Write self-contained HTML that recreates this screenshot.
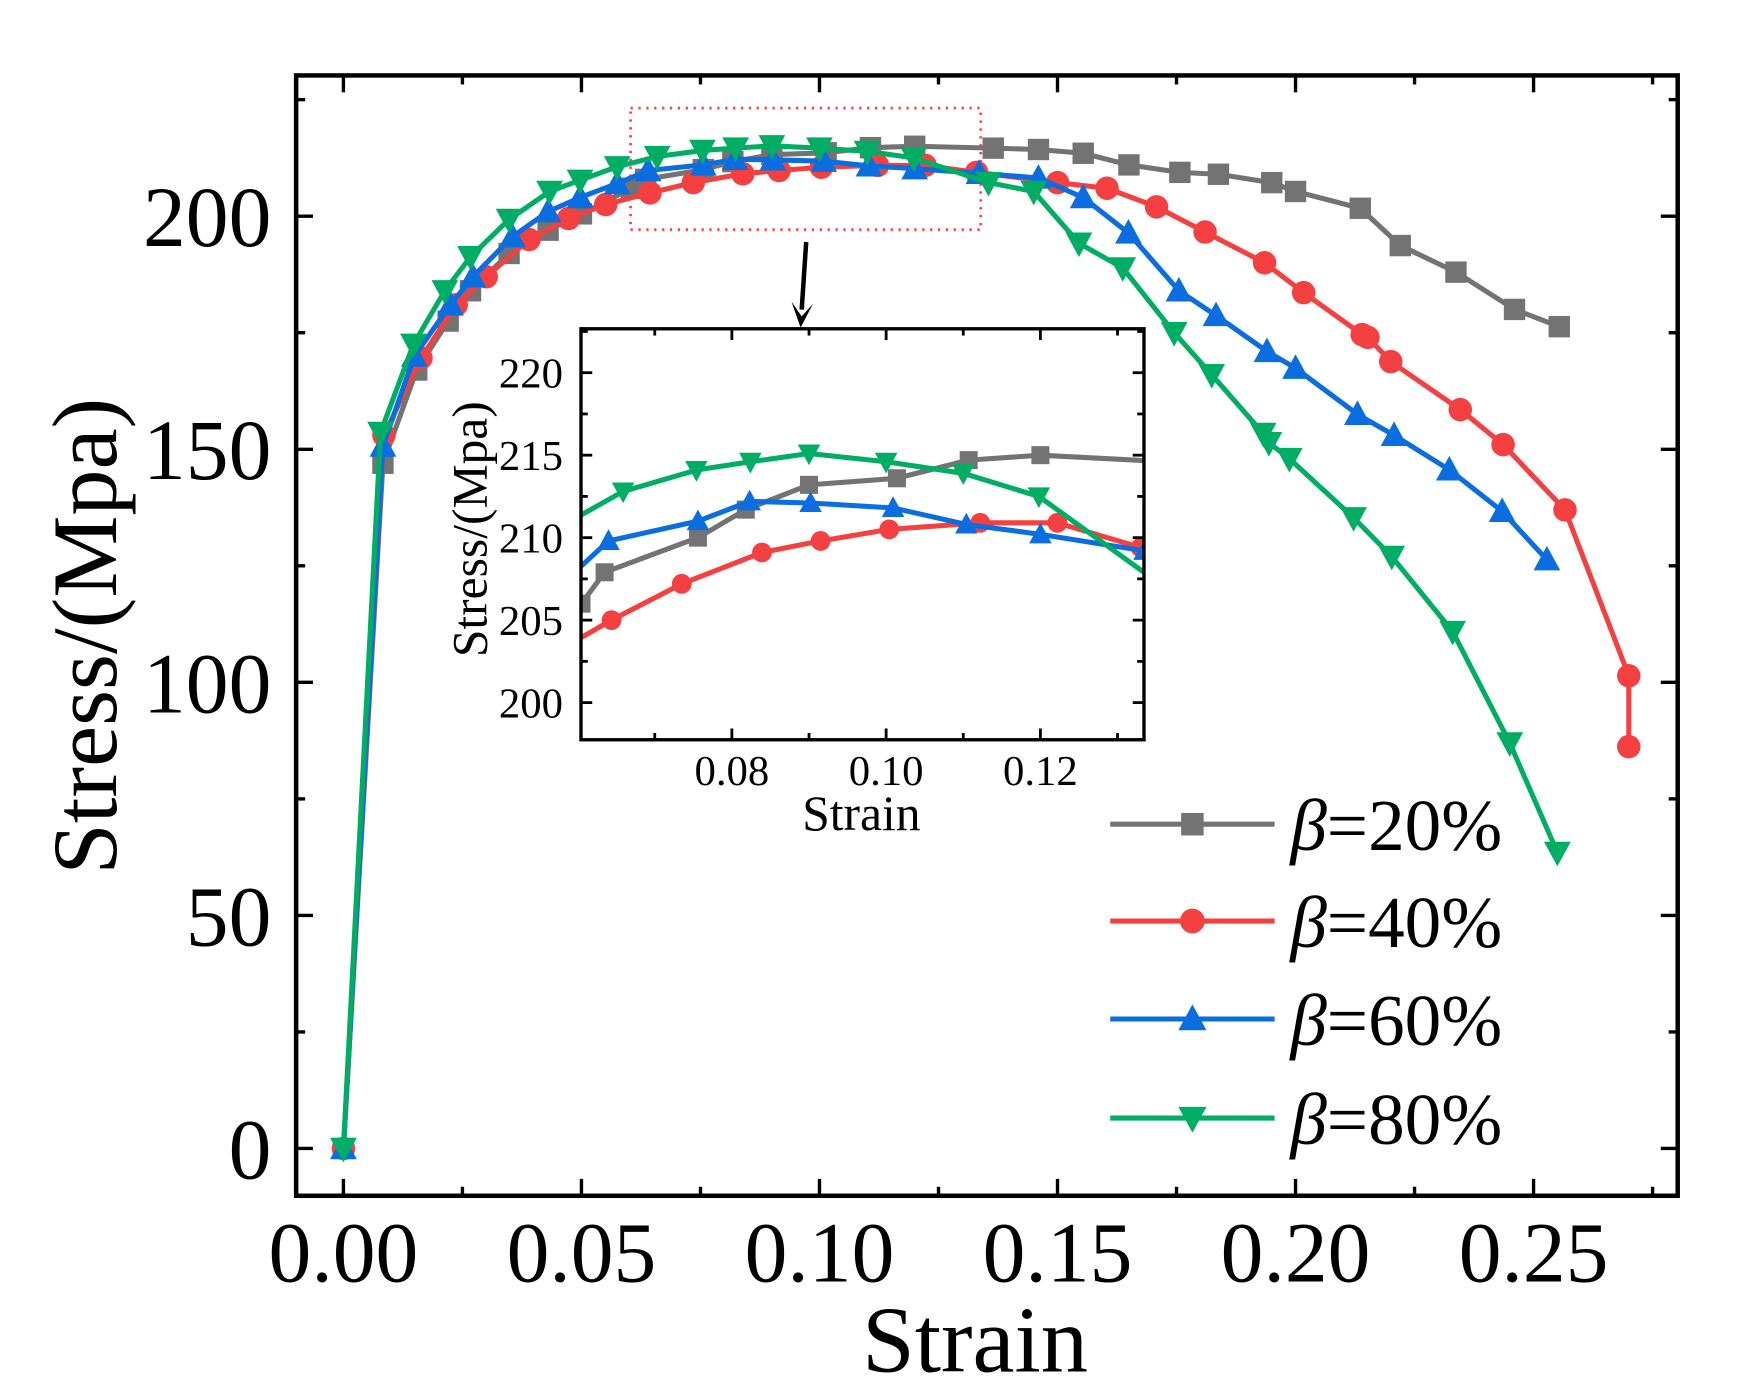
<!DOCTYPE html>
<html><head><meta charset="utf-8"><style>
html,body{margin:0;padding:0;background:#fff;overflow:hidden;}
svg{display:block;}
text{font-family:"Liberation Serif",serif;fill:#000;}
</style></head><body>
<svg id="chart" width="1743" height="1398" viewBox="0 0 1548 1241.6" preserveAspectRatio="none" xmlns="http://www.w3.org/2000/svg">
<defs>
<clipPath id="insetClip"><rect x="516" y="292" width="500" height="365"/></clipPath>
</defs>
<g id="main"></g>
<g id="inset"></g>
<g id="legend"></g>
</svg>
<script>
const seriesNames = ["β=20%","β=40%","β=60%","β=80%"];
const seriesColors = ["#737373","#f44040","#0a6ee0","#00ad64"];
const seriesMarkers = ["square","circle","up","down"];
const xTicksMain = [0,0.05,0.10,0.15,0.20,0.25];
const xTickLabelsMain = ["0.00","0.05","0.10","0.15","0.20","0.25"];
const yTicksMain = [0,50,100,150,200];
const xTicksInset = [0.08,0.10,0.12];
const xTickLabelsInset = ["0.08","0.10","0.12"];
const yTicksInset = [200,205,210,215,220];

const strain20 = [0,0.0083,0.0154,0.022,0.0267,0.0348,0.043,0.05,0.0605,0.0635,0.0756,0.0818,0.09,0.1014,0.1107,0.12,0.1365,0.146,0.1554,0.165,0.1757,0.1838,0.195,0.2,0.2136,0.222,0.2337,0.246,0.2554];
const stress20 = [0,147,167,177.5,184,192,197,200.5,206,207.9,210,211.7,213.2,213.6,214.7,215,214.6,214.3,213.5,211,209.4,209,207.2,205.3,201.7,193.7,188,180,176.3];
const strain40 = [0,0.0085,0.0163,0.0237,0.03,0.039,0.0473,0.0551,0.0644,0.0735,0.0839,0.0915,0.1004,0.1122,0.1222,0.133,0.15,0.1604,0.1708,0.181,0.1935,0.2017,0.214,0.2152,0.22,0.2346,0.2436,0.2566,0.27,0.27];
const stress40 = [0,153,169.6,181,187,195,199.5,202.5,205,207.2,209.1,209.8,210.5,210.9,210.9,209.4,207.2,206,202,196.6,190,183.6,174.6,174,168.8,158.5,151,137,101.4,86.2];
const strain60 = [0,0.0083,0.0149,0.0225,0.0272,0.0355,0.043,0.0497,0.0575,0.064,0.0756,0.0823,0.0902,0.1009,0.1104,0.12,0.1335,0.146,0.1554,0.1649,0.1755,0.1833,0.194,0.2,0.213,0.2207,0.2323,0.2434,0.2528];
const stress60 = [0,150.7,170,181,187,195.6,201,204,207,209.8,211,212.2,212.1,211.8,210.8,210.2,209.2,208.2,204,196.4,184,178.7,171,167.4,157.5,153,145.6,136.7,126.3];
const strain80 = [0,0.0078,0.0147,0.0213,0.0267,0.0348,0.0433,0.0497,0.0575,0.0659,0.0754,0.0824,0.09,0.10,0.110,0.1198,0.1355,0.145,0.1545,0.1637,0.1745,0.1824,0.1932,0.1944,0.1987,0.2122,0.2202,0.233,0.245,0.255];
const stress80 = [0,153.6,172.5,184,191.3,199.3,205.3,207.7,210.6,212.8,214.1,214.6,215.1,214.6,213.9,212.5,207.2,205.3,194.2,188.9,175,166,153.4,151.4,148,135.3,127,110.9,87,63.5];
const allStrain = [strain20,strain40,strain60,strain80];
const allStress = [stress20,stress40,stress60,stress80];

const NS="http://www.w3.org/2000/svg";
function mk(tag,attrs,parent){const e=document.createElementNS(NS,tag);for(const k in attrs)e.setAttribute(k,attrs[k]);parent.appendChild(e);return e;}

function marker(g,type,x,y,r,color){
  let e;
  if(type==="square") e=mk("rect",{x:x-r,y:y-r,width:2*r,height:2*r,fill:color},g);
  else if(type==="circle") e=mk("circle",{cx:x,cy:y,r:r*1.1,fill:color},g);
  else if(type==="up") e=mk("polygon",{points:`${x},${y-r*1.3} ${x-r*1.25},${y+r} ${x+r*1.25},${y+r}`,fill:color},g);
  else e=mk("polygon",{points:`${x},${y+r*1.3} ${x-r*1.25},${y-r} ${x+r*1.25},${y-r}`,fill:color},g);
  return e;
}

function drawAxes(g,L,R,T,B,sx,sy,xt,xl,yt,xminor,yminor,maj,min,lw,fs,labelOffX,labelOffY){
  xt.forEach((v,i)=>{const x=sx(v);
    const t1=mk("line",{x1:x,y1:B,x2:x,y2:B-maj,stroke:"#000","stroke-width":lw},g);
    
    mk("line",{x1:x,y1:T,x2:x,y2:T+maj,stroke:"#000","stroke-width":lw},g);
    const tx=mk("text",{x:x,y:B+labelOffY,"font-size":fs,"text-anchor":"middle"},g);
    tx.textContent=xl[i];
    
  });
  xminor.forEach(v=>{const x=sx(v);
    mk("line",{x1:x,y1:B,x2:x,y2:B-min,stroke:"#000","stroke-width":lw},g);
    mk("line",{x1:x,y1:T,x2:x,y2:T+min,stroke:"#000","stroke-width":lw},g);});
  yt.forEach(v=>{const y=sy(v);
    mk("line",{x1:L,y1:y,x2:L+maj,y2:y,stroke:"#000","stroke-width":lw},g);
    mk("line",{x1:R,y1:y,x2:R-maj,y2:y,stroke:"#000","stroke-width":lw},g);
    const tx=mk("text",{x:L-labelOffX,y:y+fs*0.35,"font-size":fs,"text-anchor":"end"},g);
    tx.textContent=String(v);
    
  });
  yminor.forEach(v=>{const y=sy(v);
    mk("line",{x1:L,y1:y,x2:L+min,y2:y,stroke:"#000","stroke-width":lw},g);
    mk("line",{x1:R,y1:y,x2:R-min,y2:y,stroke:"#000","stroke-width":lw},g);});
}

// MAIN
const gm=document.getElementById("main");
const mL=263,mR=1490,mT=67,mB=1062;
const mx=v=>305+v*4228;
const my=v=>1020-v*4.14;
const zb=mk("rect",{x:560,y:96,width:311,height:108,fill:"none",stroke:"#f44",
  "stroke-width":2.5,"stroke-dasharray":"2 5"},gm);

for(let s=0;s<4;s++){
  const g=mk("g",{},gm);
  
  
  const pts=allStrain[s].map((v,i)=>mx(v)+","+my(allStress[s][i])).join(" ");
  mk("polyline",{points:pts,fill:"none",stroke:seriesColors[s],"stroke-width":4.5,"stroke-linejoin":"round"},g);
  allStrain[s].forEach((v,i)=>{const m=marker(g,seriesMarkers[s],mx(v),my(allStress[s][i]),9.5,seriesColors[s]);
    });
}
const mf=mk("rect",{x:mL,y:mT,width:mR-mL,height:mB-mT,fill:"none",stroke:"#000","stroke-width":4},gm);

drawAxes(gm,mL,mR,mT,mB,mx,my,xTicksMain,xTickLabelsMain,yTicksMain,
  [0.025,0.075,0.125,0.175,0.225,0.275],[25,75,125,175,225,-25].filter(v=>my(v)<mB&&my(v)>mT),
  15,8,3,76,22,76);
const xt=mk("text",{x:866,y:1218,"font-size":84,"text-anchor":"middle"},gm);
xt.textContent="Strain";

const yt=mk("text",{x:0,y:0,"font-size":82,"text-anchor":"middle",transform:"translate(103,565) rotate(-90)"},gm);
yt.textContent="Stress/(Mpa)";

const ar=mk("g",{},gm);

mk("line",{x1:716,y1:215,x2:712,y2:275,stroke:"#000","stroke-width":4},ar);
mk("polygon",{points:"703,268 711,291 722,270 712,281",fill:"#000"},ar);

// INSET
const gi=document.getElementById("inset");
const iL=516,iR=1016,iT=292,iB=657;
const ix=v=>650+(v-0.08)*6850;
const iy=v=>624-(v-200)*14.65;
mk("rect",{x:iL,y:iT,width:iR-iL,height:iB-iT,fill:"#fff"},gi);
const gic=mk("g",{"clip-path":"url(#insetClip)"},gi);
for(let s=0;s<4;s++){
  const g=mk("g",{},gic);
  
  
  const pts=allStrain[s].map((v,i)=>ix(v)+","+iy(allStress[s][i])).join(" ");
  mk("polyline",{points:pts,fill:"none",stroke:seriesColors[s],"stroke-width":4.5,"stroke-linejoin":"round"},g);
  allStrain[s].forEach((v,i)=>{if(v<0.058||v>0.137)return;
    const m=marker(g,seriesMarkers[s],ix(v),iy(allStress[s][i]),8,seriesColors[s]);
    });
}
const inf=mk("rect",{x:iL,y:iT,width:iR-iL,height:iB-iT,fill:"none",stroke:"#000","stroke-width":3},gi);

drawAxes(gi,iL,iR,iT,iB,ix,iy,xTicksInset,xTickLabelsInset,yTicksInset,
  [0.07,0.09,0.11,0.13],[202.5,207.5,212.5,217.5,222.5].filter(v=>iy(v)>iT),
  10,6,2.5,38,16,40);
const ixt=mk("text",{x:765,y:737,"font-size":44,"text-anchor":"middle"},gi);
ixt.textContent="Strain";

const iyt=mk("text",{x:0,y:0,"font-size":44,"text-anchor":"middle",transform:"translate(432,470) rotate(-90)"},gi);
iyt.textContent="Stress/(Mpa)";


// LEGEND
const gl=document.getElementById("legend");
const legY=[732,818,905,993];
for(let s=0;s<4;s++){
  const g=mk("g",{},gl);
  
  
  mk("line",{x1:986,y1:legY[s],x2:1132,y2:legY[s],stroke:seriesColors[s],"stroke-width":4.5},g);
  marker(g,seriesMarkers[s],1059,legY[s],10,seriesColors[s]);
  const t=mk("text",{x:1146,y:legY[s]+23,"font-size":65},g);
  const b=mk("tspan",{"font-style":"italic"},t); b.textContent="β";
  const r=mk("tspan",{},t); r.textContent=seriesNames[s].slice(1);
}
</script>
</body></html>
